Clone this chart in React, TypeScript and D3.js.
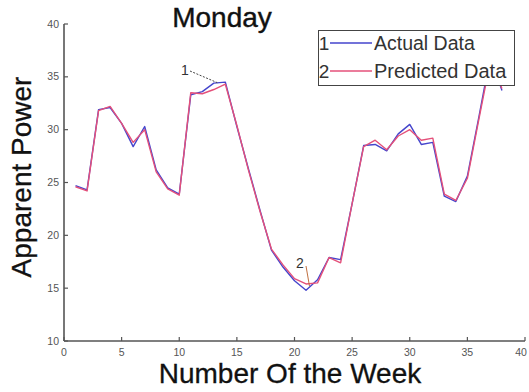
import React from "react";
import * as d3 from "d3";

// Week numbers and apparent power readings (Monday)
const weeks: number[] = Array.from({ length: 38 }, (_, i) => i + 1);
const actualData: number[] = [
  24.7, 24.3, 31.9, 32.1, 30.6, 28.4, 30.3, 26.2, 24.5, 23.9,
  33.3, 33.6, 34.4, 34.5, 30.3, 26.3, 22.4, 18.6, 17.0, 15.7,
  14.8, 15.8, 17.9, 17.7, 23.0, 28.5, 28.6, 28.0, 29.6, 30.5,
  28.6, 28.8, 23.7, 23.2, 25.6, 31.2, 37.0, 33.7,
];
const predictedData: number[] = [
  24.6, 24.2, 31.8, 32.2, 30.6, 28.8, 30.0, 26.0, 24.4, 23.8,
  33.5, 33.4, 33.8, 34.3, 30.4, 26.2, 22.3, 18.7, 17.2, 15.9,
  15.4, 15.5, 17.9, 17.4, 23.0, 28.4, 29.0, 28.1, 29.4, 30.0,
  29.0, 29.2, 23.9, 23.3, 25.4, 31.0, 36.5, 33.9,
];
const xTicks: number[] = [0, 5, 10, 15, 20, 25, 30, 35, 40];
const yTicks: number[] = [10, 15, 20, 25, 30, 35, 40];
const seriesNames: string[] = ["Actual Data", "Predicted Data"];

const W = 529;
const H = 392;
const FONT = "'Liberation Sans', Arial, Helvetica, sans-serif";
const BLUE = "#4545cc";
const PINK = "#e4507a";
const AXIS = "#555";

export default function App() {
  const x = d3.scaleLinear().domain([0, 40]).range([64, 525]);
  const y = d3.scaleLinear().domain([10, 40]).range([341, 24]);

  const line = d3
    .line<number>()
    .x((_, i) => x(weeks[i]))
    .y((d) => y(d));

  const actualPath = line(actualData) ?? "";
  const predictedPath = line(predictedData) ?? "";

  // annotation anchors on the series
  const a1 = { x: x(13.3), y: y(actualData[12] + 0.05) };
  const a2 = { x: x(21.3), y: y(15.2) };

  return (
    <svg
      width={W}
      height={H}
      viewBox={`0 0 ${W} ${H}`}
      style={{ position: "absolute", left: 0, top: 0, background: "#fff" }}
      fontFamily={FONT}
    >
      <rect x={0} y={0} width={W} height={H} fill="#fff" />

      {/* title */}
      <text x={222} y={27} fontSize={28} textAnchor="middle" fill="#111" stroke="#111" strokeWidth={0.4}>
        Monday
      </text>

      {/* axes */}
      <line x1={x(0)} x2={x(0)} y1={y(40)} y2={y(10)} stroke={AXIS} strokeWidth={1.6} />
      <line x1={x(0)} x2={x(40)} y1={y(10)} y2={y(10)} stroke={AXIS} strokeWidth={1.6} />

      {xTicks.map((t) => (
        <g key={`xt${t}`}>
          <line x1={x(t)} x2={x(t)} y1={y(10)} y2={y(10) - 4} stroke={AXIS} strokeWidth={1.2} />
          <text
            x={Math.min(x(t), W - 8)}
            y={356}
            fontSize={10.5}
            textAnchor="middle"
            fill="#555"
          >
            {t}
          </text>
        </g>
      ))}
      {yTicks.map((t) => (
        <g key={`yt${t}`}>
          <line x1={x(0)} x2={x(0) + 4} y1={y(t)} y2={y(t)} stroke={AXIS} strokeWidth={1.2} />
          <text x={59} y={y(t) + 3.5} fontSize={10.5} textAnchor="end" fill="#555">
            {t}
          </text>
        </g>
      ))}

      {/* axis titles */}
      <text x={290} y={383} fontSize={28} textAnchor="middle" fill="#111" stroke="#111" strokeWidth={0.3}>
        Number Of the Week
      </text>
      <text
        transform={`translate(31,177) rotate(-90)`}
        fontSize={28}
        textAnchor="middle"
        fill="#111"
        stroke="#111"
        strokeWidth={0.3}
      >
        Apparent Power
      </text>

      {/* series */}
      <path d={actualPath} fill="none" stroke={BLUE} strokeWidth={1.4} strokeLinejoin="round" />
      <path d={predictedPath} fill="none" stroke={PINK} strokeWidth={1.4} strokeLinejoin="round" />

      {/* annotations */}
      <text x={185} y={75} fontSize={14} fill="#333" textAnchor="middle">1</text>
      <line x1={190} y1={71} x2={a1.x} y2={a1.y} stroke="#444" strokeWidth={1} strokeDasharray="2,1.5" />
      <text x={300} y={268} fontSize={14} fill="#333" textAnchor="middle">2</text>
      <line x1={306} y1={266} x2={a2.x} y2={a2.y} stroke="#c07040" strokeWidth={1} />

      {/* legend */}
      <rect x={318.5} y={30.5} width={196} height={55} fill="#fff" stroke="#444" strokeWidth={1} />
      {seriesNames.map((name, i) => {
        const ly = 43 + i * 28;
        return (
          <g key={name}>
            <text x={324} y={ly + 7} fontSize={19} fill="#333" textAnchor="middle">
              {i + 1}
            </text>
            <line x1={330} x2={372} y1={ly} y2={ly} stroke={i === 0 ? BLUE : PINK} strokeWidth={1.4} />
            <text x={374} y={ly + 7} fontSize={i === 0 ? 19.5 : 20} fill="#333">
              {name}
            </text>
          </g>
        );
      })}
    </svg>
  );
}
